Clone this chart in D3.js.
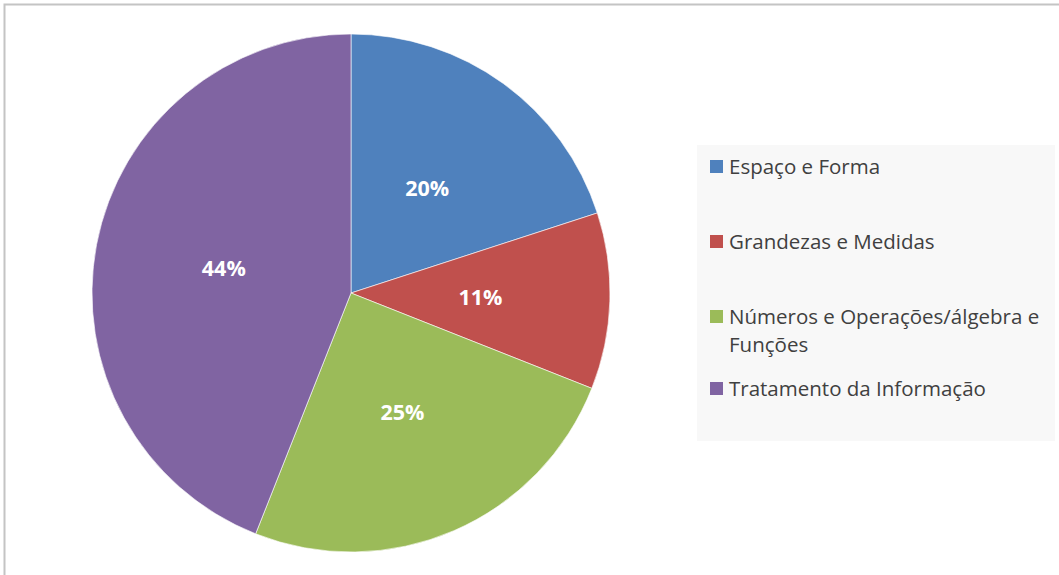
<!DOCTYPE html>
<html>
<head>
<meta charset="utf-8">
<script src="https://cdn.jsdelivr.net/npm/d3@7"></script>
<style>
  html, body { margin: 0; padding: 0; background: #fff; }
  svg { display: block; }
</style>
</head>
<body>
<svg id="chart" width="1059" height="575"></svg>
<script>
// Share of items per content area (percent)
const categories = ["Espaço e Forma", "Grandezas e Medidas", "Números e Operações/álgebra e Funções", "Tratamento da Informação"];
const legendLines = [["Espaço e Forma"], ["Grandezas e Medidas"], ["Números e Operações/álgebra e", "Funções"], ["Tratamento da Informação"]];
const values = [20, 11, 25, 44];
const colors = ["#4f81bd", "#c0504d", "#9bbb59", "#8064a2"];

const svg = d3.select("#chart");
const font = "'Open Sans', 'DejaVu Sans', sans-serif";

// chart frame
svg.append("rect")
  .attr("x", 4.5).attr("y", 4.5)
  .attr("width", 1070).attr("height", 600)
  .attr("fill", "#fff")
  .attr("stroke", "#c4c4c4").attr("stroke-width", 2);

const cx = 351, cy = 293, R = 259;
const pie = d3.pie().sort(null).value(d => d)(values);
const arc = d3.arc().innerRadius(0).outerRadius(R);

const g = svg.append("g").attr("transform", `translate(${cx},${cy})`);
g.selectAll("path.slice").data(pie).join("path")
  .attr("class", "slice")
  .attr("d", arc)
  .attr("fill", (d, i) => colors[i])
  .attr("stroke", "#ffffff").attr("stroke-opacity", 0.6).attr("stroke-width", 1);

g.selectAll("text.lbl").data(pie).join("text")
  .attr("class", "lbl")
  .attr("transform", d => `translate(${arc.centroid(d)})`)
  .attr("text-anchor", "middle")
  .attr("dy", "0.36em")
  .attr("fill", "#fff")
  .attr("font-family", font)
  .attr("font-weight", "bold")
  .attr("font-size", 21.5)
  .text(d => d.data + "%");

// legend
const lg = svg.append("g");
lg.append("rect")
  .attr("x", 697).attr("y", 145)
  .attr("width", 358).attr("height", 296)
  .attr("fill", "#f8f8f8");

const itemY = [167, 242, 317, 389];
legendLines.forEach((lines, i) => {
  lg.append("rect")
    .attr("x", 710).attr("y", itemY[i] - 7)
    .attr("width", 13).attr("height", 13)
    .attr("fill", colors[i]);
  const t = lg.append("text")
    .attr("x", 729).attr("y", itemY[i])
    .attr("fill", "#404040")
    .attr("font-family", font)
    .attr("font-size", 20.5);
  lines.forEach((ln, j) => {
    t.append("tspan").attr("x", 729).attr("dy", j === 0 ? "0.35em" : 28).text(ln);
  });
});
</script>
</body>
</html>
